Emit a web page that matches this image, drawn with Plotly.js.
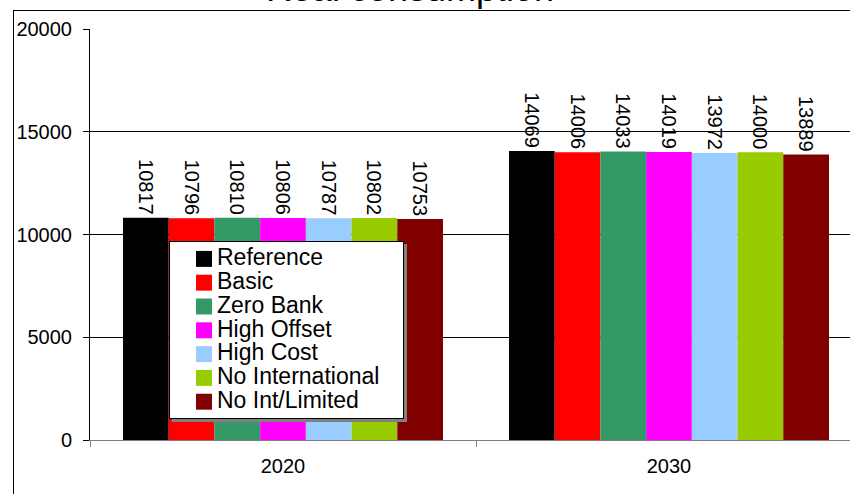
<!DOCTYPE html>
<html>
<head>
<meta charset="utf-8">
<script src="https://cdn.plot.ly/plotly-3.0.1.min.js"></script>
<style>
  html, body { margin: 0; padding: 0; width: 850px; height: 494px; overflow: hidden; background: #fff; }
  #chart { position: absolute; left: 0; top: -40px; width: 880px; height: 534px; }
  #frame { position: absolute; left: 13px; top: 10px; width: 1000px; height: 1000px; border: 1.5px solid #000; pointer-events: none; }
  .legendtext { font-size: 23px !important; }
  .legend .legendpoints path { transform: translate(34px, 0) scale(1.33); }
  .legend rect.bg { width: 234px; height: 177px; filter: drop-shadow(3px 3px 0 #808080); }
</style>
</head>
<body>
<div id="chart"></div>
<div id="frame"></div>
<script>
const categories = ['2020', '2030'];
const seriesNames = ['Reference', 'Basic', 'Zero Bank', 'High Offset', 'High Cost', 'No International', 'No Int/Limited'];
const reference = [10817, 14069];
const basic = [10796, 14006];
const zeroBank = [10810, 14033];
const highOffset = [10806, 14019];
const highCost = [10787, 13972];
const noInternational = [10802, 14000];
const noIntLimited = [10753, 13889];
const seriesValues = [reference, basic, zeroBank, highOffset, highCost, noInternational, noIntLimited];
const seriesColors = ['#000000', '#FF0000', '#339966', '#FF00FF', '#99CCFF', '#99CC00', '#800000'];
const yTicks = [0, 5000, 10000, 15000, 20000];

const FONT = 'Liberation Sans, Arial, sans-serif';

const traces = seriesNames.map((name, i) => ({
  type: 'bar',
  name: name,
  x: categories,
  y: seriesValues[i],
  marker: { color: seriesColors[i], line: { width: 0 } },
  text: seriesValues[i].map(v => String(v)),
  texttemplate: '%{text}',
  textposition: 'outside',
  textangle: 90,
  constraintext: 'none',
  cliponaxis: false,
  textfont: { family: FONT, size: 20, color: '#000' },
  hoverinfo: 'skip'
}));

const layout = {
  width: 880,
  height: 534,
  margin: { l: 90, r: 18, t: 69, b: 54 },
  paper_bgcolor: 'rgba(0,0,0,0)',
  plot_bgcolor: 'rgba(0,0,0,0)',
  font: { family: FONT, color: '#000' },
  title: {
    text: 'Real consumption',
    font: { family: FONT, size: 36, color: '#000' },
    xref: 'container', x: 410 / 880, xanchor: 'center',
    yref: 'container', y: 1 - 40.5 / 534, yanchor: 'bottom'
  },
  barmode: 'group',
  bargap: 0.171,
  bargroupgap: 0,
  showlegend: true,
  legend: {
    x: (169 - 90) / 772, y: (440 - 241) / 411,
    xanchor: 'left', yanchor: 'top',
    bgcolor: '#fff', bordercolor: '#000', borderwidth: 1,
    font: { family: FONT, size: 16, color: '#000' },
    itemwidth: 37,
    traceorder: 'normal'
  },
  xaxis: {
    type: 'category',
    range: [-0.5, 1.5],
    showline: true, linecolor: '#808080', linewidth: 1,
    ticks: 'outside', tickson: 'boundaries', ticklen: 6, tickcolor: '#808080',
    tickfont: { family: FONT, size: 20, color: '#000' },
    ticklabelstandoff: 8,
    showgrid: false, zeroline: false
  },
  yaxis: {
    range: [0, 20000],
    tickvals: yTicks,
    ticktext: yTicks.map(v => String(v)),
    showline: true, linecolor: '#000', linewidth: 1,
    ticks: 'outside', ticklen: 6, tickcolor: '#000',
    tickfont: { family: FONT, size: 20, color: '#000' },
    ticklabelstandoff: 7,
    showgrid: true, gridcolor: '#000', gridwidth: 1,
    zeroline: false
  }
};

Plotly.newPlot('chart', traces, layout, { staticPlot: true, displayModeBar: false });
</script>
</body>
</html>
